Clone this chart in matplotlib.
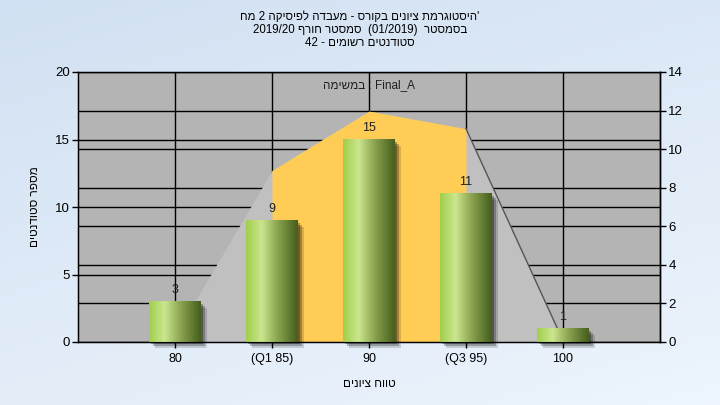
import re
import numpy as np
import matplotlib
matplotlib.use("Agg")
import matplotlib.pyplot as plt
from matplotlib.patches import Rectangle
import matplotlib.transforms as mtransforms

plt.rcParams['font.family'] = ['Liberation Sans', 'DejaVu Sans']

# data
categories = ['80', '(Q1 85)', '90', '(Q3 95)', '100']
counts = [3, 9, 15, 11, 1]
# smoothed distribution behind the bars (left axis units)
dist_vals = [0.5, 12.7, 17.1, 15.8, 0.1]
q_range = (1, 3)  # index of Q1 and Q3 category

title_lines = ["'היסטוגרמת ציונים בקורס - מעבדה לפיסיקה 2 מח",
               "בסמסטר  (01/2019)  סמסטר חורף 2019/20",
               "סטודנטים רשומים - 42"]
inner_text = "Final_A : במשימה"
xlabel = "טווח ציונים"
ylabel = "מספר סטודנטים"


def rtl(s):
    # matplotlib has no bidi: put a right-to-left string into visual order
    parts = re.findall(r'[A-Za-z0-9_./]+|.', s)
    mirror = {'(': ')', ')': '('}
    return ''.join(mirror.get(p, p) for p in reversed(parts))


fig = plt.figure(figsize=(7.2, 4.05), dpi=100)

# light blue gradient background
bg = fig.add_axes([0, 0, 1, 1], zorder=-10)
gx, gy = np.meshgrid(np.linspace(0, 1, 200), np.linspace(0, 1, 200))
g = np.clip(0.35 * gx + 0.65 * gy, 0, 1)[..., None]
c0 = np.array([0.82, 0.88, 0.95])
c1 = np.array([0.93, 0.96, 0.99])
bg.imshow(c0 * (1 - g) + c1 * g, extent=(0, 1, 0, 1), aspect='auto')
bg.axis('off')

ax = fig.add_axes([78 / 720, 1 - 342 / 405, 582 / 720, 270 / 405])
ax.set_facecolor('#b4b4b4')
x = np.arange(1, len(categories) + 1)
ax.set_axisbelow(True)
ax.set_yticks([0, 5, 10, 15, 20])
ax.set_xticks(x)
ax.set_xticklabels(categories)
ax.grid(True, color='black', lw=1)

# right axis gridlines, drawn on the main axes so the area covers them
y2max = 14
y2ticks = np.arange(0, 15, 2)
for t in y2ticks[1:-1]:
    ax.axhline(t * 20 / y2max, color='black', lw=1, zorder=0.6)

# distribution area, yellow between Q1 and Q3
i0, i1 = q_range
ax.fill_between(x, dist_vals, color='#c0c0c0', lw=0, zorder=1)
ax.fill_between(x[i0:i1 + 1], dist_vals[i0:i1 + 1], color='#ffcc55', lw=0, zorder=1.1)
ax.plot(x[-2:], dist_vals[-2:], color='#555555', lw=1, zorder=1.2)

# gradient cylinders
stops = np.array([0.0, 0.3, 0.6, 1.0])
cols = np.array([[0.63, 0.81, 0.30], [0.80, 0.90, 0.56],
                 [0.55, 0.65, 0.32], [0.27, 0.37, 0.11]])
t = np.linspace(0, 1, 100)
grad = np.stack([np.interp(t, stops, cols[:, k]) for k in range(3)], axis=-1)[None, :, :]
w = 0.53
for xi, v in zip(x, counts):
    for off, a in [(6, 0.15), (4, 0.25), (2, 0.3)]:
        tr = mtransforms.offset_copy(ax.transData, fig=fig, x=off, y=-off, units='dots')
        ax.add_patch(Rectangle((xi - w / 2, 0), w, v, transform=tr, color='black',
                               alpha=a, lw=0, zorder=2, clip_on=False))
    ax.imshow(grad, extent=(xi - w / 2, xi + w / 2, 0, v), aspect='auto',
              zorder=3, interpolation='bilinear')
    ax.annotate(str(v), (xi, v), xytext=(0, 4), textcoords='offset points',
                ha='center', va='bottom', fontsize=9, color='#202020', zorder=5)
ax.set_xlim(0, len(categories) + 1)
ax.set_ylim(0, 20)

ax.text(0.5, 0.95, rtl(inner_text), transform=ax.transAxes, ha='center',
        va='center', fontsize=8.5, color='#202020')

for s in ax.spines.values():
    s.set_color('black')
    s.set_linewidth(1)
ax.tick_params(axis='both', direction='out', length=4, width=1, labelsize=9.5,
               colors='black', pad=2)
ax.tick_params(axis='x', labelsize=9, pad=4)

ax2 = ax.twinx()
ax2.set_ylim(0, y2max)
ax2.set_yticks(y2ticks)
ax2.tick_params(axis='y', direction='out', length=4, width=1, labelsize=9.5, pad=2)
ax2.spines['right'].set_linewidth(1)

ax.set_xlabel(rtl(xlabel), fontsize=8.5, labelpad=9)
ax.set_ylabel(rtl(ylabel), fontsize=8.5, labelpad=10)

fig.text(0.5, 1 - 30 / 405, '\n'.join(rtl(l) for l in title_lines), ha='center',
         va='center', fontsize=8.3, linespacing=1.1)

fig.savefig('out.png', dpi=100)
